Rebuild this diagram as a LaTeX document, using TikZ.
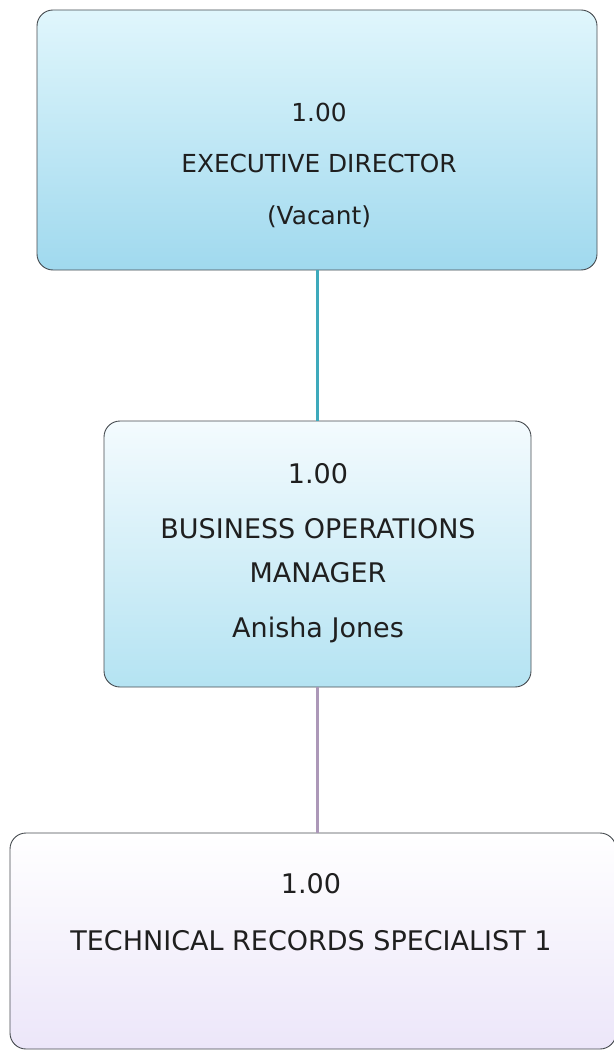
\documentclass[tikz,border=0pt]{standalone}
\usepackage{fontspec}
\setmainfont{DejaVu Sans}
\definecolor{edtop}{RGB}{224,246,252}
\definecolor{edbot}{RGB}{160,217,238}
\definecolor{bmtop}{RGB}{244,251,254}
\definecolor{bmbot}{RGB}{180,227,242}
\definecolor{trbot}{RGB}{236,230,249}
\definecolor{linka}{RGB}{62,170,188}
\definecolor{linkb}{RGB}{172,152,184}
\definecolor{edge}{RGB}{70,75,80}
\begin{document}
\begin{tikzpicture}[x=1pt,y=-1pt,
  box/.style={draw=edge, line width=0.9pt, rounded corners=16pt, inner sep=0pt},
  lbl/.style={text=black!88, inner sep=0pt, anchor=base},
  linkA/.style={draw=linka, line width=3pt},
  linkB/.style={draw=linkb, line width=3pt}]
\useasboundingbox (0,0) rectangle (613,1051);
% boxes
\node[box, minimum width=560pt, minimum height=260pt, top color=edtop, bottom color=edbot] (ed) at (317,140) {};
\node[box, minimum width=427pt, minimum height=266pt, top color=bmtop, bottom color=bmbot] (bom) at (317.5,554) {};
\node[box, minimum width=606pt, minimum height=216pt, top color=white, bottom color=trbot] (trs) at (313,941) {};
% connectors
\draw[linkA] (ed.south) -- (ed.south |- bom.north);
\draw[linkB] (bom.south) -- (bom.south |- trs.north);
% texts
\node[lbl, font=\fontsize{24.8}{28}\selectfont] (t1) at (319,122) {1.00};
\node[lbl, font=\fontsize{24.8}{28}\selectfont] (t2) at (319,173) {EXECUTIVE DIRECTOR};
\node[lbl, font=\fontsize{24.8}{28}\selectfont] (t3) at (319,224) {(Vacant)};
\node[lbl, font=\fontsize{27}{30}\selectfont] (m1) at (318,483) {1.00};
\node[lbl, font=\fontsize{27}{30}\selectfont] (m2) at (318,538) {BUSINESS OPERATIONS};
\node[lbl, font=\fontsize{27}{30}\selectfont] (m3) at (318,582) {MANAGER};
\node[lbl, font=\fontsize{27}{30}\selectfont] (m4) at (318,637) {Anisha Jones};
\node[lbl, font=\fontsize{27}{30}\selectfont] (b1) at (311,893) {1.00};
\node[lbl, font=\fontsize{27}{30}\selectfont] (b2) at (311,950) {TECHNICAL RECORDS SPECIALIST 1};
\end{tikzpicture}
\end{document}
